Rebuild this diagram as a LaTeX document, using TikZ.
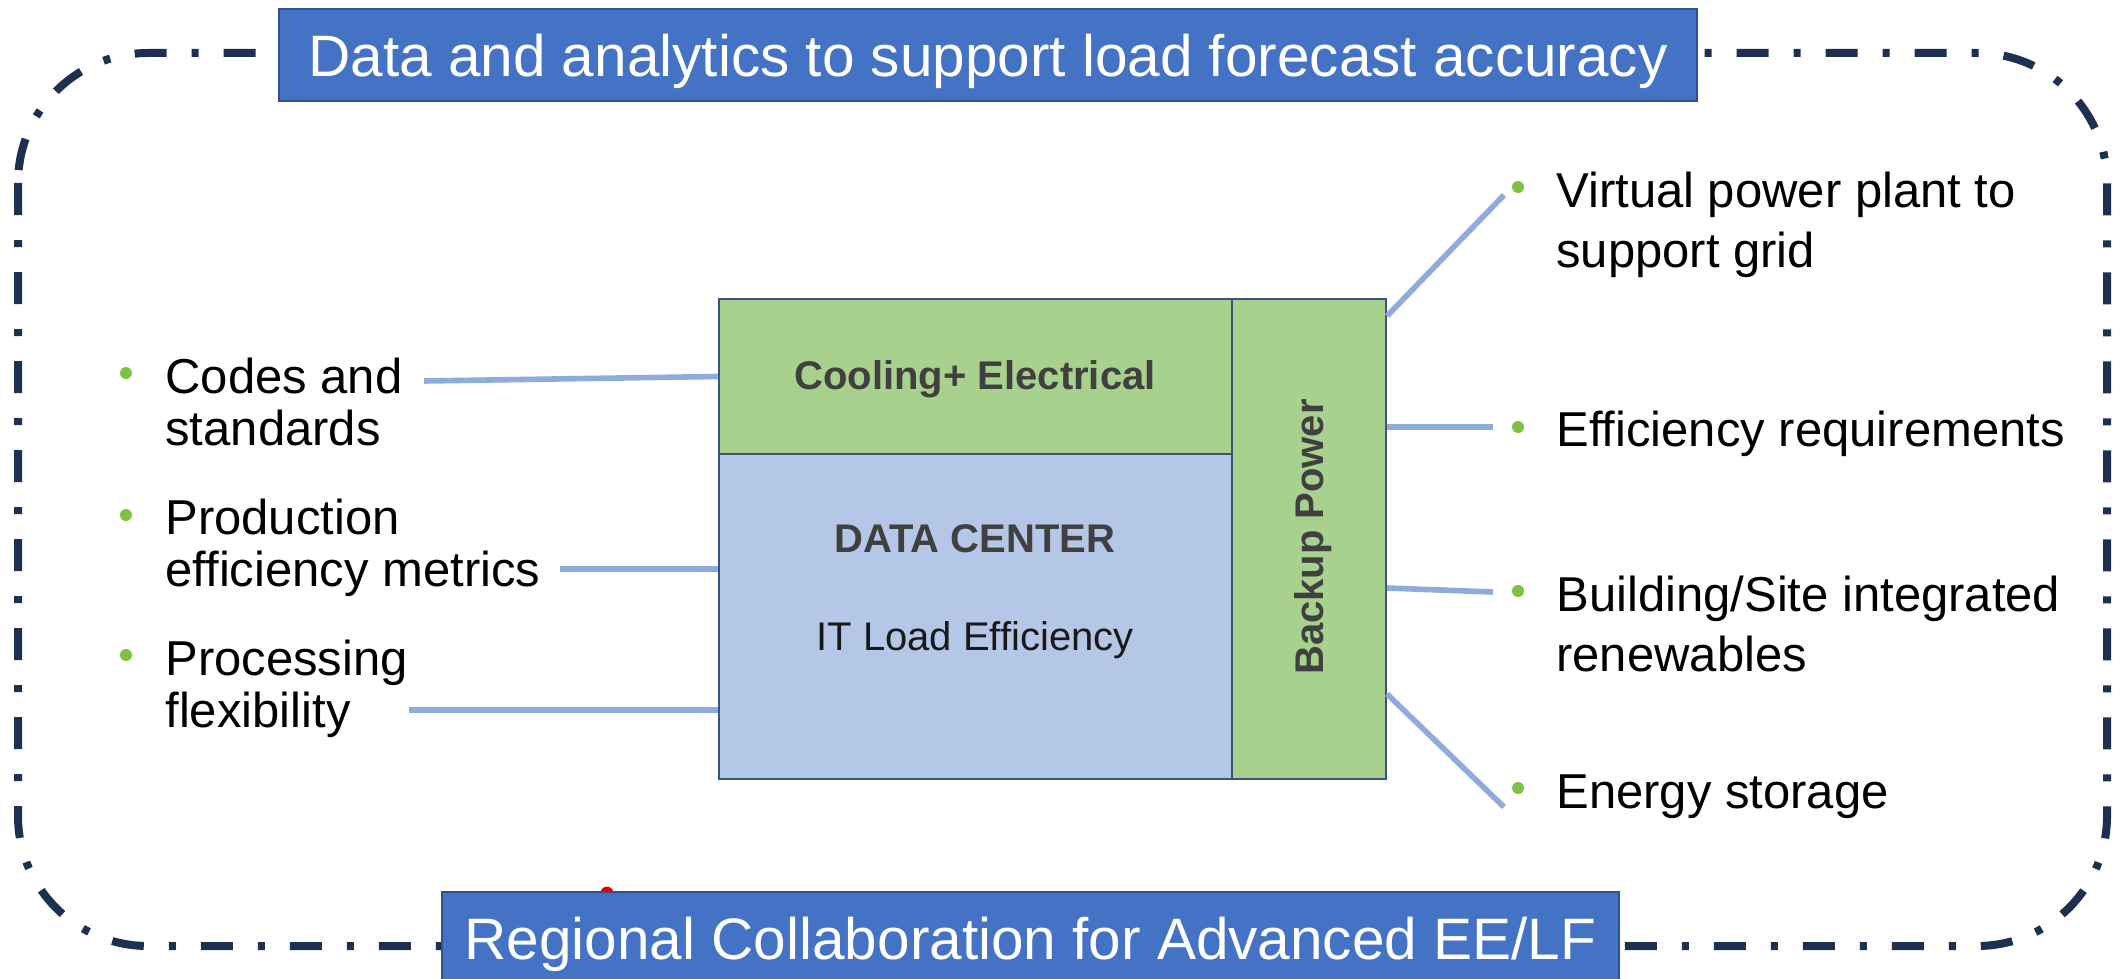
\documentclass[tikz,border=0pt]{standalone}
\usepackage{fontspec}
\setmainfont{Liberation Sans}
\usetikzlibrary{calc}
\definecolor{bannerblue}{HTML}{4472C4}
\definecolor{bannerline}{HTML}{2F528F}
\definecolor{navy}{HTML}{1D3052}
\definecolor{boxgreen}{HTML}{A9D18E}
\definecolor{boxblue}{HTML}{B4C7E7}
\definecolor{boxline}{HTML}{3A5480}
\definecolor{connblue}{HTML}{8FAADC}
\definecolor{dotgreen}{HTML}{7DC242}
\definecolor{titlegray}{HTML}{404040}
\tikzset{
  banner/.style={draw=bannerline, line width=1.2pt, fill=bannerblue, text=white,
    font=\fontsize{29.25pt}{35pt}\selectfont, inner xsep=0pt, inner ysep=12.5pt,
    text height=21pt, text depth=0pt, anchor=north},
  frame/.style={draw=navy, line width=4pt, dash pattern=on 16pt off 12.5pt on 3.5pt off 12.5pt, rounded corners=65pt},
  block/.style={draw=boxline, line width=1pt, inner sep=0pt},
  boxtitle/.style={font=\bfseries\fontsize{20pt}{24pt}\selectfont, text=titlegray, inner sep=0pt, anchor=base},
  boxtext/.style={font=\fontsize{20pt}{24pt}\selectfont, text=black!90, inner sep=0pt, anchor=base},
  lefttext/.style={font=\fontsize{24.5pt}{26pt}\selectfont, align=left, inner sep=0pt, anchor=base west},
  righttext/.style={font=\fontsize{24.5pt}{30pt}\selectfont, align=left, inner sep=0pt, anchor=base west},
  bulletdot/.style={circle, fill=dotgreen, inner sep=0pt, minimum size=6pt},
  conn/.style={draw=connblue, line width=2.8pt}
}
\begin{document}
\begin{tikzpicture}[x=0.5pt,y=-0.5pt]
\clip (0,0) rectangle (2121,979);
\fill[white] (0,0) rectangle (2121,979);

% dashed frame
\draw[frame] (18,53) rectangle (2107,946);

% red mark
\fill[red!90!black] (607,893) circle (3.2pt);

% banners
\node[banner, minimum width=709pt] (top) at (988,8) {Data and analytics to support load forecast accuracy};
\node[banner, minimum width=588.5pt] (bottom) at (1030.5,891) {Regional Collaboration for Advanced EE/LF};

% central block
\node[block, fill=boxgreen, minimum width=256.5pt, minimum height=77.5pt] (cool) at (975.5,376.5) {};
\node[block, fill=boxblue, minimum width=256.5pt, minimum height=162.5pt] (dc) at (975.5,616.5) {};
\node[block, fill=boxgreen, minimum width=77pt, minimum height=240pt] (bp) at (1309,539) {};
\node[boxtitle] (cooltxt) at (975,389) {Cooling+ Electrical};
\node[boxtitle] (dctxt) at (975,552) {DATA CENTER};
\node[boxtext] (ittxt) at (975,650) {IT Load Efficiency};
\node[boxtitle, rotate=90, anchor=center] (bptxt) at (1313,537) {Backup Power};

% left bullets (anchor = baseline of last line)
\node[bulletdot] (d1) at (126,373) {};
\node[lefttext] (t1) at (165,445) {Codes and\\standards};
\node[bulletdot] (d2) at (126,515) {};
\node[lefttext] (t2) at (165,586) {Production\\efficiency metrics};
\node[bulletdot] (d3) at (126,655) {};
\node[lefttext] (t3) at (165,727) {Processing\\flexibility};

% right bullets
\node[bulletdot] (e1) at (1518,187) {};
\node[righttext] (s1) at (1556,267) {Virtual power plant to\\support grid};
\node[bulletdot] (e2) at (1518,427) {};
\node[righttext] (s2) at (1556,446) {Efficiency requirements};
\node[bulletdot] (e3) at (1518,591) {};
\node[righttext] (s3) at (1556,671) {Building/Site integrated\\renewables};
\node[bulletdot] (e4) at (1518,788) {};
\node[righttext] (s4) at (1556,808) {Energy storage};

% connector ends
\coordinate (l1) at (424,381);
\coordinate (l2) at (560,569);
\coordinate (l3) at (409,710);
\coordinate (r1) at (1504,195);
\coordinate (r2) at (1493,427);
\coordinate (r3) at (1493,592);
\coordinate (r4) at (1504,807);

\draw[conn] (l1) -- (cool.west);
\draw[conn] (l2) -- (l2 -| dc.west);
\draw[conn] (l3) -- (l3 -| dc.west);
\draw[conn] ($(bp.north east)+(0,18)$) -- (r1);
\draw[conn] (r2 -| bp.east) -- (r2);
\draw[conn] ($(r3 -| bp.east)+(0,-4)$) -- (r3);
\draw[conn] ($(bp.south east)+(0,-86)$) -- (r4);
\end{tikzpicture}
\end{document}
